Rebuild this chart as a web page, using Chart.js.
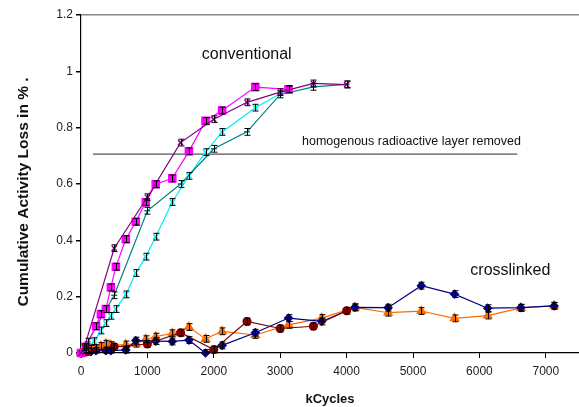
<!DOCTYPE html>
<html>
<head>
<meta charset="utf-8">
<script src="https://cdn.jsdelivr.net/npm/chart.js@4/dist/chart.umd.min.js"></script>
<style>
  html, body { margin: 0; padding: 0; background: #fff; }
  #wrap { width: 579px; height: 407px; position: relative; }
</style>
</head>
<body>
<div id="wrap"><canvas id="myChart"></canvas></div>
<script>
// conventional
var magentaX = [0, 75, 225, 300, 375, 450, 525, 675, 825, 975, 1125, 1375, 1625, 1875, 2125, 2625, 3125];
var magentaY = [0, 0.022, 0.095, 0.138, 0.156, 0.233, 0.306, 0.404, 0.466, 0.535, 0.599, 0.62, 0.716, 0.824, 0.861, 0.944, 0.936];

var purpleX = [0, 50, 500, 1000, 1500, 2000, 2500, 3000, 3500, 4000];
var purpleY = [0, 0.02, 0.372, 0.553, 0.747, 0.83, 0.89, 0.926, 0.957, 0.953];

var tealX = [0, 100, 500, 1000, 1500, 2000, 2500, 3000, 3500, 4000];
var tealY = [0, 0.04, 0.205, 0.505, 0.6, 0.725, 0.785, 0.918, 0.945, 0.954];

var cyanX = [0, 75, 200, 300, 375, 450, 525, 675, 825, 975, 1125, 1375, 1625, 1875, 2125, 2625, 3125];
var cyanY = [0, 0.012, 0.042, 0.08, 0.106, 0.132, 0.156, 0.208, 0.284, 0.342, 0.413, 0.536, 0.629, 0.713, 0.785, 0.871, 0.937];

// crosslinked
var navyX = [0, 75, 150, 225, 375, 450, 675, 825, 1125, 1375, 1625, 1875, 2125, 2625, 3125, 3625, 4125, 4625, 5125, 5625, 6125, 6625, 7125];
var navyY = [0, 0.003, 0.005, 0.008, 0.008, 0.008, 0.011, 0.044, 0.042, 0.041, 0.046, 0.0, 0.027, 0.072, 0.124, 0.112, 0.162, 0.161, 0.239, 0.209, 0.159, 0.161, 0.167];

var orangeX = [0, 75, 150, 225, 300, 375, 450, 675, 825, 975, 1125, 1375, 1625, 1875, 2125, 2625, 3125, 3625, 4125, 4625, 5125, 5625, 6125, 6625, 7125];
var orangeY = [0, 0.006, 0.015, 0.017, 0.025, 0.033, 0.028, 0.03, 0.033, 0.049, 0.058, 0.07, 0.092, 0.05, 0.077, 0.064, 0.1, 0.124, 0.162, 0.143, 0.149, 0.123, 0.133, 0.16, 0.168];

var redX = [0, 100, 500, 1000, 1500, 2000, 2500, 3000, 3500, 4000];
var redY = [0, 0.005, 0.022, 0.032, 0.072, 0.012, 0.112, 0.087, 0.095, 0.15];

// error bar half width
var errHalf = 0.012;

// reference line
var layerX = [180, 6570];
var layerY = [0.706, 0.706];

var xTicks = [0, 1000, 2000, 3000, 4000, 5000, 6000, 7000];

var notes = [
  { text: "conventional", x: 2496, y: 1.061, size: 16 },
  { text: "crosslinked", x: 6466, y: 0.291, size: 16 },
  { text: "homogenous radioactive layer removed", x: 4977, y: 0.751, size: 12.5 }
];

var yTitle = "Cumulative Activity Loss in % .";

function pts(xs, ys) {
  return xs.map(function (x, i) { return { x: x, y: ys[i] }; });
}

function series(xs, ys, color, style, radius) {
  return {
    data: pts(xs, ys),
    borderColor: color,
    backgroundColor: color,
    pointStyle: style,
    pointRadius: radius,
    pointBorderColor: color,
    pointBorderWidth: 1.5,
    borderWidth: 1.2,
    tension: 0,
    clip: false,
    errorBars: true
  };
}

var errorBarPlugin = {
  id: "errorBars",
  afterDatasetsDraw: function (chart) {
    var c = chart.ctx;
    var xs = chart.scales.x, ys = chart.scales.y;
    c.save();
    c.strokeStyle = "#000";
    c.lineWidth = 1;
    chart.data.datasets.forEach(function (ds) {
      if (!ds.errorBars) return;
      ds.data.forEach(function (p) {
        if (p.x === 0) return;
        var px = Math.round(xs.getPixelForValue(p.x)) + 0.5;
        var y1 = ys.getPixelForValue(p.y + errHalf);
        var y2 = ys.getPixelForValue(Math.max(0, p.y - errHalf));
        c.beginPath();
        c.moveTo(px, y1); c.lineTo(px, y2);
        c.moveTo(px - 3, y1); c.lineTo(px + 3, y1);
        c.moveTo(px - 3, y2); c.lineTo(px + 3, y2);
        c.stroke();
      });
    });
    c.restore();
  }
};

var notesPlugin = {
  id: "notes",
  afterDraw: function (chart) {
    var c = chart.ctx;
    var xs = chart.scales.x, ys = chart.scales.y;
    c.save();
    c.fillStyle = "#111";
    c.textAlign = "center";
    c.textBaseline = "middle";
    notes.forEach(function (n) {
      c.font = n.size + "px 'Liberation Sans', Arial, sans-serif";
      c.fillText(n.text, xs.getPixelForValue(n.x), ys.getPixelForValue(n.y));
    });
    // y axis title
    c.translate(24, 192);
    c.rotate(-Math.PI / 2);
    c.font = "bold 15.5px 'Liberation Sans', Arial, sans-serif";
    c.fillText(yTitle, 0, 0);
    c.restore();
  }
};

var ctx = document.getElementById("myChart").getContext("2d");
var chart = new Chart(ctx, {
  type: "line",
  data: {
    datasets: [
      series(purpleX, purpleY, "#800080", "crossRot", 3.5),
      series(magentaX, magentaY, "#ff00ff", "rect", 5),
      series(tealX, tealY, "#008080", "line", 3),
      series(cyanX, cyanY, "#00eeee", "crossRot", 3.5),
      series(redX, redY, "#800000", "circle", 3.8),
      series(navyX, navyY, "#000080", "rectRot", 3.8),
      series(orangeX, orangeY, "#ff6a00", "triangle", 4.5),
      {
        data: pts(layerX, layerY),
        borderColor: "#555",
        borderWidth: 1.3,
        pointRadius: 0,
        tension: 0
      }
    ]
  },
  options: {
    responsive: true,
    maintainAspectRatio: false,
    animation: false,
    layout: { autoPadding: false, padding: { top: 15, right: 0, left: 0, bottom: 0 } },
    plugins: {
      legend: { display: false },
      tooltip: { enabled: false }
    },
    scales: {
      x: {
        type: "linear",
        min: 0,
        max: 7500,
        afterBuildTicks: function (scale) {
          scale.ticks = xTicks.map(function (v) { return { value: v }; });
        },
        afterFit: function (scale) { scale.height = 54; },
        ticks: {
          color: "#222",
          padding: 6,
          maxRotation: 0,
          callback: function (v) { return String(v); },
          font: { family: "'Liberation Sans', Arial, sans-serif", size: 12 }
        },
        grid: {
          color: "transparent",
          tickColor: "#000",
          tickLength: 5,
          drawOnChartArea: false
        },
        border: { color: "#000", width: 1.2 },
        title: {
          display: true,
          text: "kCycles",
          color: "#111",
          padding: { top: 0, bottom: 0 },
          font: { family: "'Liberation Sans', Arial, sans-serif", size: 13, weight: "bold" }
        }
      },
      y: {
        min: 0,
        max: 1.2,
        afterFit: function (scale) { scale.width = 81; },
        ticks: {
          stepSize: 0.2,
          color: "#222",
          padding: 3,
          callback: function (v) { return String(Number(v.toFixed(1))); },
          font: { family: "'Liberation Sans', Arial, sans-serif", size: 12 }
        },
        grid: {
          color: function (c) { return c.tick && c.tick.value === 1.2 ? "#888" : "transparent"; },
          lineWidth: 1.5,
          tickColor: "#000",
          tickLength: 5
        },
        border: { color: "#000", width: 1.2 }
      }
    }
  },
  plugins: [errorBarPlugin, notesPlugin]
});
</script>
</body>
</html>
